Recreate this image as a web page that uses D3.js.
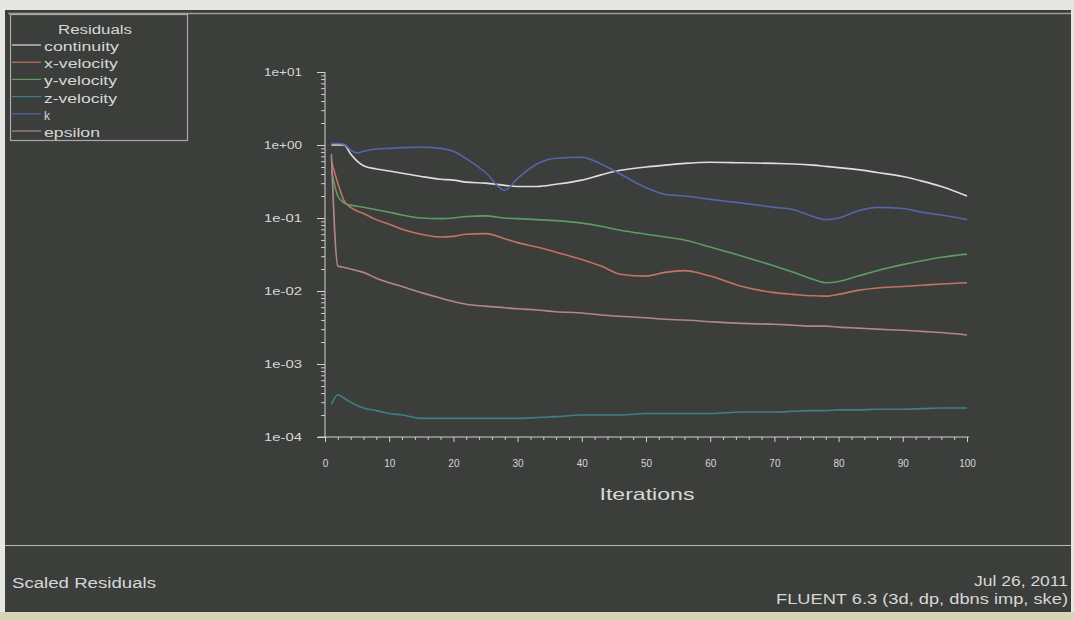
<!DOCTYPE html>
<html>
<head>
<meta charset="utf-8">
<script src="https://cdn.jsdelivr.net/npm/d3@7"></script>
<style>
  html, body { margin: 0; padding: 0; background: #e6e6e2; }
  svg { display: block; }
  text { font-family: "Liberation Sans", Arial, sans-serif; fill: #d6d8d6; }
</style>
</head>
<body>
<svg id="chart" width="1074" height="620"></svg>
<script>
// ---------------- data ----------------
const iterations = [1,2,3,4,5,6,8,10,12,15,18,20,22,25,28,30,33,36,40,43,46,50,53,56,60,65,70,73,76,78,80,83,86,90,93,96,100];

const continuity = [1.0,1.0,1.0,0.75,0.6,0.52,0.47,0.44,0.41,0.37,0.34,0.33,0.31,0.30,0.28,0.27,0.27,0.29,0.33,0.39,0.45,0.50,0.53,0.56,0.58,0.57,0.56,0.55,0.53,0.51,0.49,0.46,0.42,0.37,0.32,0.27,0.20];
const xVelocity  = [0.6,0.3,0.17,0.14,0.125,0.115,0.095,0.082,0.07,0.06,0.055,0.056,0.06,0.061,0.052,0.046,0.04,0.034,0.027,0.022,0.017,0.016,0.018,0.019,0.016,0.0115,0.0095,0.009,0.0086,0.0085,0.009,0.0102,0.011,0.0115,0.012,0.0125,0.013];
const yVelocity  = [0.45,0.2,0.16,0.15,0.145,0.14,0.13,0.12,0.11,0.10,0.098,0.10,0.105,0.107,0.10,0.098,0.095,0.092,0.085,0.077,0.068,0.06,0.055,0.05,0.04,0.03,0.022,0.018,0.0145,0.013,0.0135,0.016,0.019,0.023,0.026,0.029,0.032];
const zVelocity  = [0.00028,0.00038,0.00034,0.0003,0.00027,0.00025,0.00023,0.00021,0.0002,0.00018,0.00018,0.00018,0.00018,0.00018,0.00018,0.00018,0.000185,0.00019,0.0002,0.0002,0.0002,0.00021,0.00021,0.00021,0.00021,0.00022,0.00022,0.000225,0.00023,0.00023,0.000235,0.000235,0.00024,0.00024,0.000245,0.00025,0.00025];
const kRes       = [1.05,1.05,1.02,0.85,0.78,0.82,0.88,0.90,0.92,0.93,0.90,0.82,0.65,0.42,0.24,0.35,0.55,0.66,0.68,0.55,0.40,0.26,0.21,0.20,0.18,0.16,0.14,0.13,0.105,0.095,0.10,0.125,0.14,0.135,0.12,0.11,0.095];
const epsilon    = [0.75,0.022,0.021,0.02,0.019,0.018,0.015,0.013,0.0115,0.0095,0.008,0.0072,0.0066,0.0062,0.0059,0.0057,0.0055,0.0052,0.005,0.0047,0.0045,0.0043,0.0041,0.004,0.0038,0.0036,0.0035,0.0034,0.0033,0.0033,0.0032,0.0031,0.003,0.0029,0.0028,0.0027,0.0025];

const seriesNames = ["continuity","x-velocity","y-velocity","z-velocity","k","epsilon"];
const seriesValues = [continuity, xVelocity, yVelocity, zVelocity, kRes, epsilon];
const seriesColors = ["#dedede","#c27462","#5f9c62","#3f7f8a","#5664ad","#b3868c"];

const xTickValues = [0,10,20,30,40,50,60,70,80,90,100];
const yTickValues = [1e-4,1e-3,1e-2,1e-1,1e0,1e1];
const yTickLabels = ["1e-04","1e-03","1e-02","1e-01","1e+00","1e+01"];

// ---------------- drawing ----------------
const svg = d3.select("#chart");
const W = 1074, H = 620;

// page / panel background
svg.append("rect").attr("x",0).attr("y",0).attr("width",W).attr("height",H).attr("fill","#e6e6e2");
svg.append("rect").attr("x",0).attr("y",612).attr("width",W).attr("height",8).attr("fill","#d9d5b4");
svg.append("rect").attr("x",5).attr("y",10).attr("width",1066).attr("height",602).attr("fill","#3c3e3c");
// top light border line of the panel
svg.append("line").attr("x1",8).attr("x2",1071).attr("y1",13.5).attr("y2",13.5).attr("stroke","#9a9c9a").attr("stroke-width",1.5);
// separator between plot and footer
svg.append("line").attr("x1",5).attr("x2",1071).attr("y1",545.5).attr("y2",545.5).attr("stroke","#b8bab8").attr("stroke-width",1.2);

const x = d3.scaleLinear().domain([0,100]).range([325,967]);
const y = d3.scaleLog().domain([1e-4,1e1]).range([437,72]);

// minor y ticks
const yMinor = [];
yTickValues.slice(0,-1).forEach(d => { for (let m = 2; m <= 9; m++) yMinor.push(d*m); });
const gyMinor = svg.append("g").attr("transform","translate(325,0)")
  .call(d3.axisLeft(y).tickValues(yMinor).tickSize(4).tickFormat(""));
gyMinor.select(".domain").remove();
gyMinor.selectAll("line").attr("stroke","#c8cac8");

// major y axis
const gy = svg.append("g").attr("transform","translate(325,0)")
  .call(d3.axisLeft(y).tickValues(yTickValues).tickSize(8).tickPadding(15)
    .tickFormat((d,i) => yTickLabels[i]));
gy.select(".domain").attr("stroke","#d0d2d0").attr("d","M0,72V437");
gy.selectAll("line").attr("stroke","#d0d2d0");
gy.selectAll("text").attr("font-size",10).attr("fill","#d2d4d2")
  .attr("textLength",38).attr("lengthAdjust","spacingAndGlyphs")
  .attr("font-family","'Liberation Sans', Arial, sans-serif");

// minor x ticks
const xMinor = d3.range(0,101,2).filter(v => v % 10 !== 0);
const gxMinor = svg.append("g").attr("transform","translate(0,437)")
  .call(d3.axisBottom(x).tickValues(xMinor).tickSize(3).tickFormat(""));
gxMinor.select(".domain").remove();
gxMinor.selectAll("line").attr("stroke","#c8cac8");

// major x axis
const gx = svg.append("g").attr("transform","translate(0,437)")
  .call(d3.axisBottom(x).tickValues(xTickValues).tickSize(5).tickPadding(18));
gx.select(".domain").attr("stroke","#d0d2d0").attr("d","M318,0H969");
gx.selectAll("line").attr("stroke","#d0d2d0");
gx.selectAll("text").attr("font-size",10).attr("fill","#d2d4d2")
  .attr("font-family","'Liberation Sans', Arial, sans-serif");

// axis title
svg.append("text").attr("x",647).attr("y",500).attr("text-anchor","middle")
  .attr("font-size",17).attr("textLength",95).attr("lengthAdjust","spacingAndGlyphs")
  .text("Iterations");

// residual lines
const line = d3.line()
  .x((d,i) => x(iterations[i]))
  .y(d => y(d))
  .curve(d3.curveMonotoneX);

seriesValues.forEach((vals, si) => {
  svg.append("path")
    .datum(vals)
    .attr("fill","none")
    .attr("stroke",seriesColors[si])
    .attr("stroke-width",1.6)
    .attr("d",line);
});

// legend
const lg = svg.append("g");
lg.append("rect").attr("x",10.5).attr("y",14.5).attr("width",177).attr("height",126)
  .attr("fill","#3c3e3c").attr("stroke","#a8aaa8").attr("stroke-width",1.2);
lg.append("text").attr("x",95).attr("y",34).attr("text-anchor","middle")
  .attr("font-size",12).attr("textLength",74).attr("lengthAdjust","spacingAndGlyphs")
  .text("Residuals");
const legendTextLen = [75,74,73,73,6,56];
seriesNames.forEach((name, i) => {
  const yy = 45 + i*17.2;
  lg.append("line").attr("x1",12).attr("x2",41).attr("y1",yy).attr("y2",yy)
    .attr("stroke",seriesColors[i]).attr("stroke-width",1.2);
  lg.append("text").attr("x",44).attr("y",yy+6).attr("font-size",12)
    .attr("textLength",legendTextLen[i]).attr("lengthAdjust","spacingAndGlyphs")
    .text(name);
});

// footer
svg.append("text").attr("x",12).attr("y",588).attr("font-size",14)
  .attr("textLength",144).attr("lengthAdjust","spacingAndGlyphs").text("Scaled Residuals");
svg.append("text").attr("x",1068).attr("y",586).attr("text-anchor","end").attr("font-size",14)
  .attr("textLength",94).attr("lengthAdjust","spacingAndGlyphs").text("Jul 26, 2011");
svg.append("text").attr("x",1068).attr("y",604).attr("text-anchor","end").attr("font-size",14)
  .attr("textLength",292).attr("lengthAdjust","spacingAndGlyphs").text("FLUENT 6.3 (3d, dp, dbns imp, ske)");
</script>
</body>
</html>
